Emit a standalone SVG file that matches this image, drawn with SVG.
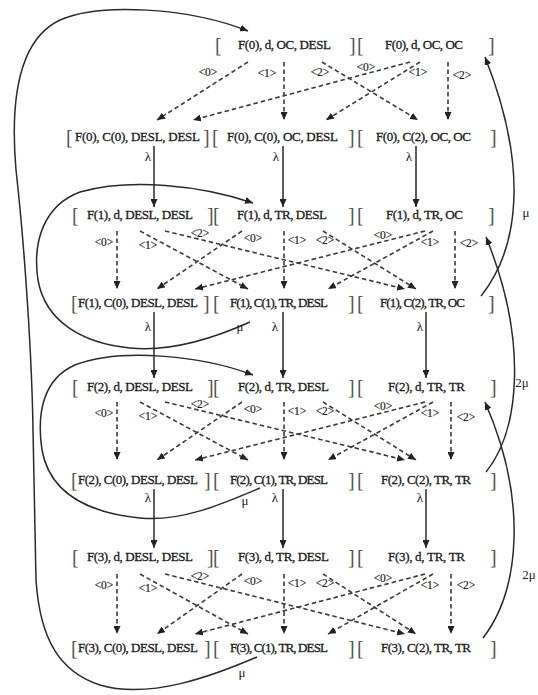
<svg xmlns="http://www.w3.org/2000/svg" width="538" height="695" viewBox="0 0 538 695">
<defs>
<marker id="ah" markerWidth="9" markerHeight="7" refX="8" refY="3.5" orient="auto" markerUnits="userSpaceOnUse">
<path d="M0,0 L8,3.5 L0,7 z" fill="#222"/>
</marker>
<style>
.n{font-family:"Liberation Serif","Times New Roman",serif;font-size:13px;fill:#1a1a1a;stroke:#1a1a1a;stroke-width:0.3}
.b{font-family:"Liberation Serif","Times New Roman",serif;font-size:20px;fill:#555}
.l{font-family:"Liberation Serif","Times New Roman",serif;font-size:11.5px;fill:#222;stroke:#222;stroke-width:0.2;text-anchor:middle}
.g{font-family:"Liberation Serif","Times New Roman",serif;font-size:13px;fill:#1a1a1a;text-anchor:middle}
.s{fill:none;stroke:#2a2a2a;stroke-width:1.5}
.d{fill:none;stroke:#3a3a3a;stroke-width:1.6;stroke-dasharray:4.5 3}
.a{marker-end:url(#ah)}
</style>
</defs>
<rect width="538" height="695" fill="#fff"/>

<g id="connectors">
<path class="s a" d="M154,146 V207"/>
<path class="s a" d="M283,146 V207"/>
<path class="s a" d="M416,146 V207"/>
<path class="s a" d="M154,312 V378"/>
<path class="s a" d="M283,312 V378"/>
<path class="s a" d="M426,312 V378"/>
<path class="s a" d="M154,489 V548"/>
<path class="s a" d="M283,489 V548"/>
<path class="s a" d="M426,489 V548"/>
<path class="s a" d="M481,296 C518,250 530,170 485,57"/>
<path class="s a" d="M486,472 C520,430 528,340 486,237"/>
<path class="s a" d="M483,638 C520,590 528,500 485,402"/>
<path class="s a" d="M257,657 C215,675 150,700 100,685 C60,672 40,640 36,580 L33,430 C32,360 25,250 16,170 C10,100 18,40 60,20 C100,2 190,8 248,31"/>
<path class="s a" d="M250,322 C210,340 170,352 130,348 C80,343 45,320 38,280 C32,240 45,205 80,192 C130,178 200,185 253,203"/>
<path class="s a" d="M260,488 C220,505 180,522 140,518 C90,513 50,495 42,450 C36,410 45,378 75,365 C120,348 200,355 253,375"/>
<path class="d a" d="M248,62 L157,120"/>
<path class="d a" d="M284,62 V120"/>
<path class="d a" d="M322,62 L418,120"/>
<path class="d a" d="M410,62 L193,120"/>
<path class="d a" d="M420,62 L326,120"/>
<path class="d a" d="M448,62 V120"/>
<path class="d a" d="M117,231 V289"/>
<path class="d a" d="M140,231 L248,289"/>
<path class="d a" d="M165,231 L405,289"/>
<path class="d a" d="M242,231 L157,289"/>
<path class="d a" d="M284,231 V289"/>
<path class="d a" d="M323,231 L416,289"/>
<path class="d a" d="M425,231 L195,289"/>
<path class="d a" d="M433,231 L328,289"/>
<path class="d a" d="M455,231 V289"/>
<path class="d a" d="M117,402 V460"/>
<path class="d a" d="M140,402 L248,460"/>
<path class="d a" d="M165,402 L405,460"/>
<path class="d a" d="M242,402 L157,460"/>
<path class="d a" d="M284,402 V460"/>
<path class="d a" d="M323,402 L416,460"/>
<path class="d a" d="M425,402 L195,460"/>
<path class="d a" d="M433,402 L328,460"/>
<path class="d a" d="M451,402 V460"/>
<path class="d a" d="M117,574 V634"/>
<path class="d a" d="M140,574 L248,634"/>
<path class="d a" d="M165,574 L405,634"/>
<path class="d a" d="M242,574 L157,634"/>
<path class="d a" d="M284,574 V634"/>
<path class="d a" d="M323,574 L416,634"/>
<path class="d a" d="M425,574 L195,634"/>
<path class="d a" d="M433,574 L328,634"/>
<path class="d a" d="M451,574 V634"/>
<text class="l" x="208" y="76">&lt;0&gt;</text>
<text class="l" x="267" y="77">&lt;1&gt;</text>
<text class="l" x="320" y="76">&lt;2&gt;</text>
<text class="l" x="366" y="71">&lt;0&gt;</text>
<text class="l" x="418" y="76">&lt;1&gt;</text>
<text class="l" x="462" y="79">&lt;2&gt;</text>
<text class="l" x="104" y="246">&lt;0&gt;</text>
<text class="l" x="148" y="249">&lt;1&gt;</text>
<text class="l" x="200" y="237">&lt;2&gt;</text>
<text class="l" x="253" y="242">&lt;0&gt;</text>
<text class="l" x="297" y="244">&lt;1&gt;</text>
<text class="l" x="325" y="244">&lt;2&gt;</text>
<text class="l" x="383" y="239">&lt;0&gt;</text>
<text class="l" x="430" y="246">&lt;1&gt;</text>
<text class="l" x="469" y="247">&lt;2&gt;</text>
<text class="l" x="104" y="417">&lt;0&gt;</text>
<text class="l" x="148" y="420">&lt;1&gt;</text>
<text class="l" x="200" y="408">&lt;2&gt;</text>
<text class="l" x="253" y="413">&lt;0&gt;</text>
<text class="l" x="297" y="415">&lt;1&gt;</text>
<text class="l" x="325" y="415">&lt;2&gt;</text>
<text class="l" x="383" y="410">&lt;0&gt;</text>
<text class="l" x="430" y="417">&lt;1&gt;</text>
<text class="l" x="466" y="421">&lt;2&gt;</text>
<text class="l" x="104" y="589">&lt;0&gt;</text>
<text class="l" x="148" y="592">&lt;1&gt;</text>
<text class="l" x="200" y="580">&lt;2&gt;</text>
<text class="l" x="253" y="585">&lt;0&gt;</text>
<text class="l" x="297" y="587">&lt;1&gt;</text>
<text class="l" x="325" y="587">&lt;2&gt;</text>
<text class="l" x="383" y="582">&lt;0&gt;</text>
<text class="l" x="430" y="589">&lt;1&gt;</text>
<text class="l" x="466" y="589">&lt;2&gt;</text>
<text class="g" x="148" y="161">λ</text>
<text class="g" x="276" y="161">λ</text>
<text class="g" x="409" y="161">λ</text>
<text class="g" x="148" y="331">λ</text>
<text class="g" x="240" y="331">μ</text>
<text class="g" x="275" y="331">λ</text>
<text class="g" x="420" y="331">λ</text>
<text class="g" x="148" y="502">λ</text>
<text class="g" x="245" y="505">μ</text>
<text class="g" x="275" y="502">λ</text>
<text class="g" x="420" y="502">λ</text>
<text class="g" x="242" y="677">μ</text>
<text class="g" x="526" y="217">μ</text>
<text class="g" x="522" y="387">2μ</text>
<text class="g" x="529" y="579">2μ</text>
</g>

<g id="n-F0-d-OC-DESL"><text class="b" x="215" y="52">[</text><text class="n" x="238" y="49" textLength="93">F(0), d, OC, DESL</text><text class="b" x="349" y="52">]</text></g>
<g id="n-F0-d-OC-OC"><text class="b" x="357" y="52">[</text><text class="n" x="385" y="49" textLength="78">F(0), d, OC, OC</text><text class="b" x="488" y="52">]</text></g>

<g id="n-F0-C0-DESL-DESL"><text class="b" x="66" y="144">[</text><text class="n" x="75" y="141" textLength="125">F(0), C(0), DESL, DESL</text><text class="b" x="203" y="144">]</text></g>
<g id="n-F0-C0-OC-DESL"><text class="b" x="212" y="144">[</text><text class="n" x="227" y="141" textLength="111">F(0), C(0), OC, DESL</text><text class="b" x="348" y="144">]</text></g>
<g id="n-F0-C2-OC-OC"><text class="b" x="357" y="144">[</text><text class="n" x="376" y="141" textLength="95">F(0), C(2), OC, OC</text><text class="b" x="490" y="144">]</text></g>

<g id="n-F1-d-DESL-DESL"><text class="b" x="72" y="222">[</text><text class="n" x="87" y="219" textLength="106">F(1), d, DESL, DESL</text><text class="b" x="207" y="222">]</text></g>
<g id="n-F1-d-TR-DESL"><text class="b" x="213" y="222">[</text><text class="n" x="237" y="219" textLength="90">F(1), d, TR, DESL</text><text class="b" x="348" y="222">]</text></g>
<g id="n-F1-d-TR-OC"><text class="b" x="357" y="222">[</text><text class="n" x="386" y="219" textLength="77">F(1), d, TR, OC</text><text class="b" x="488" y="222">]</text></g>

<g id="n-F1-C0-DESL-DESL"><text class="b" x="71" y="310">[</text><text class="n" x="78" y="307" textLength="120">F(1), C(0), DESL, DESL</text><text class="b" x="203" y="310">]</text></g>
<g id="n-F1-C1-TR-DESL"><text class="b" x="213" y="310">[</text><text class="n" x="230" y="307" textLength="98">F(1), C(1), TR, DESL</text><text class="b" x="348" y="310">]</text></g>
<g id="n-F1-C2-TR-OC"><text class="b" x="357" y="310">[</text><text class="n" x="380" y="307" textLength="85">F(1), C(2), TR, OC</text><text class="b" x="488" y="310">]</text></g>

<g id="n-F2-d-DESL-DESL"><text class="b" x="72" y="394">[</text><text class="n" x="87" y="391" textLength="106">F(2), d, DESL, DESL</text><text class="b" x="207" y="394">]</text></g>
<g id="n-F2-d-TR-DESL"><text class="b" x="213" y="394">[</text><text class="n" x="238" y="391" textLength="91">F(2), d, TR, DESL</text><text class="b" x="348" y="394">]</text></g>
<g id="n-F2-d-TR-TR"><text class="b" x="357" y="394">[</text><text class="n" x="388" y="391" textLength="77">F(2), d, TR, TR</text><text class="b" x="490" y="394">]</text></g>

<g id="n-F2-C0-DESL-DESL"><text class="b" x="71" y="487">[</text><text class="n" x="78" y="484" textLength="120">F(2), C(0), DESL, DESL</text><text class="b" x="204" y="487">]</text></g>
<g id="n-F2-C1-TR-DESL"><text class="b" x="213" y="487">[</text><text class="n" x="230" y="484" textLength="98">F(2), C(1), TR, DESL</text><text class="b" x="348" y="487">]</text></g>
<g id="n-F2-C2-TR-TR"><text class="b" x="357" y="487">[</text><text class="n" x="381" y="484" textLength="90">F(2), C(2), TR, TR</text><text class="b" x="490" y="487">]</text></g>

<g id="n-F3-d-DESL-DESL"><text class="b" x="72" y="564">[</text><text class="n" x="87" y="561" textLength="106">F(3), d, DESL, DESL</text><text class="b" x="207" y="564">]</text></g>
<g id="n-F3-d-TR-DESL"><text class="b" x="213" y="564">[</text><text class="n" x="238" y="561" textLength="91">F(3), d, TR, DESL</text><text class="b" x="348" y="564">]</text></g>
<g id="n-F3-d-TR-TR"><text class="b" x="357" y="564">[</text><text class="n" x="388" y="561" textLength="77">F(3), d, TR, TR</text><text class="b" x="490" y="564">]</text></g>

<g id="n-F3-C0-DESL-DESL"><text class="b" x="71" y="655">[</text><text class="n" x="78" y="652" textLength="120">F(3), C(0), DESL, DESL</text><text class="b" x="204" y="655">]</text></g>
<g id="n-F3-C1-TR-DESL"><text class="b" x="213" y="655">[</text><text class="n" x="230" y="652" textLength="98">F(3), C(1), TR, DESL</text><text class="b" x="348" y="655">]</text></g>
<g id="n-F3-C2-TR-TR"><text class="b" x="357" y="655">[</text><text class="n" x="381" y="652" textLength="90">F(3), C(2), TR, TR</text><text class="b" x="490" y="655">]</text></g>
</svg>
